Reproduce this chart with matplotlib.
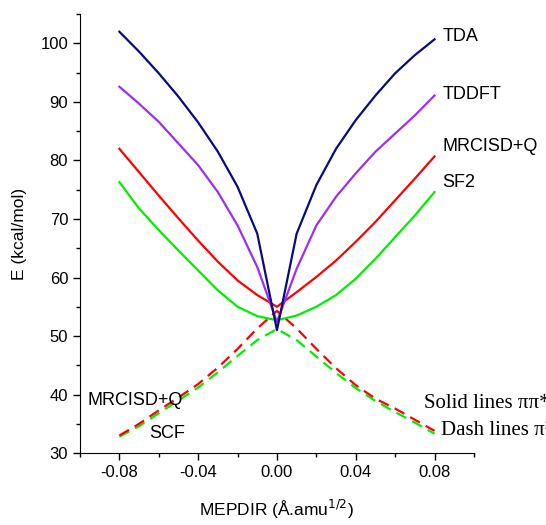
import matplotlib
matplotlib.use('Agg')
import matplotlib.pyplot as plt
from matplotlib.ticker import MultipleLocator, FormatStrFormatter

plt.rcParams['font.family'] = ['Liberation Sans', 'DejaVu Sans']
plt.rcParams['axes.unicode_minus'] = False

# MEPDIR coordinate
x = [-0.08, -0.07, -0.06, -0.05, -0.04, -0.03, -0.02, -0.01, 0.0,
     0.01, 0.02, 0.03, 0.04, 0.05, 0.06, 0.07, 0.08]

# solid lines (pi pi*)
tda = [102.0, 98.6, 94.9, 90.9, 86.5, 81.5, 75.5, 67.5, 51.0,
       67.5, 75.8, 82.0, 86.9, 91.1, 94.9, 98.0, 100.7]
tddft = [92.6, 89.7, 86.6, 82.9, 79.2, 74.6, 68.9, 61.8, 52.4,
         61.5, 68.9, 73.8, 77.8, 81.5, 84.6, 87.7, 91.1]
mrcisd = [82.0, 78.0, 74.0, 70.1, 66.3, 62.7, 59.5, 57.0, 55.0,
          57.5, 60.1, 62.9, 66.1, 69.5, 73.2, 76.9, 80.7]
sf2 = [76.3, 71.8, 68.1, 64.6, 61.2, 57.8, 55.0, 53.4, 52.7,
       53.5, 55.0, 57.0, 59.8, 63.2, 66.9, 70.6, 74.6]

# dash lines (pi^2)
mrcisd_dash = [33.0, 35.0, 37.3, 39.5, 41.8, 44.6, 47.8, 51.3, 54.3,
               51.3, 47.8, 44.5, 41.6, 39.3, 37.6, 35.7, 33.8]
scf_dash = [32.8, 34.6, 36.8, 39.0, 41.2, 43.8, 46.6, 49.3, 51.2,
            49.3, 46.5, 43.7, 41.1, 38.9, 37.0, 35.2, 33.3]

fig = plt.figure(figsize=(5.46, 5.25), dpi=100)
ax = fig.add_axes([0.1465, 0.137, 0.7215, 0.836])

ax.plot(x, scf_dash, color='#00ee00', lw=1.6, dashes=(5, 3))
ax.plot(x, mrcisd_dash, color='#ff0000', lw=1.6, dashes=(5, 3))
ax.plot(x, sf2, color='#00ee00', lw=1.6)
ax.plot(x, mrcisd, color='#ff0000', lw=1.6)
ax.plot(x, tddft, color='#9b2ff5', lw=1.6)
ax.plot(x, tda, color='#0a0a80', lw=1.6)

ax.set_xlim(-0.1, 0.1)
ax.set_ylim(30, 105)
ax.xaxis.set_major_locator(MultipleLocator(0.04))
ax.xaxis.set_minor_locator(MultipleLocator(0.02))
ax.xaxis.set_major_formatter(FormatStrFormatter('%.2f'))
ax.yaxis.set_major_locator(MultipleLocator(10))
ax.yaxis.set_minor_locator(MultipleLocator(5))
ax.tick_params(which='major', length=5, width=1, labelsize=12, direction='out')
ax.tick_params(which='minor', length=3, width=1, direction='out')
for s in ['top', 'right']:
    ax.spines[s].set_visible(False)

ax.set_xlabel('MEPDIR (Å.amu$^{1/2}$)', fontsize=12.5, labelpad=13)
ax.set_ylabel('E (kcal/mol)', fontsize=12.5, labelpad=10)

lab = dict(fontsize=13, va='center', ha='left', clip_on=False)
ax.text(0.084, 101.1, 'TDA', **lab)
ax.text(0.084, 91.3, 'TDDFT', **lab)
ax.text(0.084, 82.4, 'MRCISD+Q', **lab)
ax.text(0.084, 76.3, 'SF2', **lab)
ax.text(-0.0963, 38.9, 'MRCISD+Q', **lab)
ax.text(-0.0648, 33.4, 'SCF', **lab)

# these two run past the right edge, as in the original figure
ser = dict(fontsize=15, va='center', ha='left', clip_on=False,
           family=['Liberation Serif', 'DejaVu Serif'])
ax.text(0.0744, 38.5, 'Solid lines ππ*', **ser)
ax.text(0.0834, 33.9, 'Dash lines π²', **ser)

fig.savefig('out.png', dpi=100)
